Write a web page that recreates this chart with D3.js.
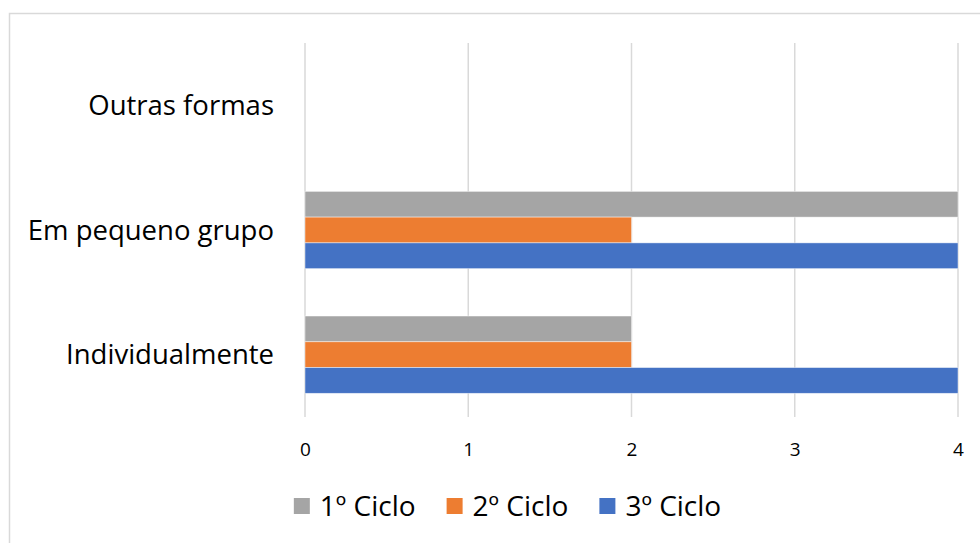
<!DOCTYPE html>
<html>
<head>
<meta charset="utf-8">
<script src="https://cdn.jsdelivr.net/npm/d3@7"></script>
<style>
  body { margin: 0; background: #fff; }
  svg { display: block; font-family: "Open Sans", Lato, sans-serif; }
</style>
</head>
<body>
<svg id="chart" width="980" height="543"></svg>
<script>
// data (categories listed top -> bottom as drawn)
var categories = [ "Outras formas", "Em pequeno grupo", "Individualmente" ];
var seriesNames = [ "1º Ciclo", "2º Ciclo", "3º Ciclo" ];
var seriesColors = [ "#A5A5A5", "#ED7D31", "#4472C4" ];
var ciclo1 = [ 0, 4, 2 ];
var ciclo2 = [ 0, 2, 2 ];
var ciclo3 = [ 0, 4, 4 ];
var xTicks = [ 0, 1, 2, 3, 4 ];

var seriesValues = [ ciclo1, ciclo2, ciclo3 ];

var svg = d3.select( "#chart" );

// outer chart border
svg.append( "rect" )
	.attr( "x", 9.5 )
	.attr( "y", 13.5 )
	.attr( "width", 990 )
	.attr( "height", 560 )
	.attr( "fill", "none" )
	.attr( "stroke", "#d9d9d9" )
	.attr( "stroke-width", 1.5 );

var plot = { left: 305, right: 958, top: 43, bottom: 417 };

var x = d3.scaleLinear()
	.domain( [ 0, 4 ] )
	.range( [ plot.left, plot.right ] );

var y = d3.scaleBand()
	.domain( categories )
	.range( [ plot.top, plot.bottom ] )
	.paddingInner( 0.38 )
	.paddingOuter( 0.19 );

var ySub = d3.scaleBand()
	.domain( d3.range( seriesNames.length ) )
	.range( [ 0, y.bandwidth() ] );

// vertical gridlines
svg.append( "g" )
	.selectAll( "line" )
	.data( xTicks )
	.join( "line" )
		.attr( "x1", function( d ) { return x( d ); } )
		.attr( "x2", function( d ) { return x( d ); } )
		.attr( "y1", plot.top )
		.attr( "y2", plot.bottom )
		.attr( "stroke", "#d9d9d9" )
		.attr( "stroke-width", 1.5 );

// bars
var groups = svg.append( "g" )
	.selectAll( "g" )
	.data( categories )
	.join( "g" )
		.attr( "transform", function( d ) { return "translate(0," + y( d ) + ")"; } );

groups.selectAll( "rect" )
	.data( function( d, i ) {
		return seriesValues.map( function( s, k ) { return { k: k, v: s[ i ] }; } );
	} )
	.join( "rect" )
		.filter( function( d ) { return d.v > 0; } )
		.attr( "x", x( 0 ) )
		.attr( "y", function( d ) { return ySub( d.k ); } )
		.attr( "width", function( d ) { return x( d.v ) - x( 0 ); } )
		.attr( "height", ySub.bandwidth() )
		.attr( "fill", function( d ) { return seriesColors[ d.k ]; } )
		.attr( "stroke", "#ffffff" )
		.attr( "stroke-opacity", 0.6 )
		.attr( "stroke-width", 0.75 );

// x axis labels
var xAxis = svg.append( "g" )
	.attr( "transform", "translate(0," + ( plot.bottom + 32 ) + ")" )
	.call( d3.axisBottom( x ).tickValues( xTicks ).tickFormat( d3.format( "d" ) ).tickSize( 0 ).tickPadding( 0 ) );
xAxis.select( ".domain" ).remove();
xAxis.selectAll( "text" )
	.attr( "dy", "0.35em" )
	.attr( "y", 0 )
	.style( "font-family", "'Open Sans', Lato, sans-serif" )
	.style( "font-size", "19px" )
	.attr( "fill", "#000" );

// category labels
var yAxis = svg.append( "g" )
	.attr( "transform", "translate(" + ( plot.left - 31 ) + ",0)" )
	.call( d3.axisLeft( y ).tickSize( 0 ).tickPadding( 0 ) );
yAxis.select( ".domain" ).remove();
yAxis.selectAll( "text" )
	.attr( "dy", "0.35em" )
	.style( "font-family", "'Open Sans', Lato, sans-serif" )
	.style( "font-size", "27.5px" )
	.attr( "fill", "#000" );

// legend
var legend = svg.append( "g" )
	.attr( "class", "legenda" );

var items = legend.selectAll( "g" )
	.data( seriesNames )
	.join( "g" );

items.append( "rect" )
	.attr( "width", 16 )
	.attr( "height", 16 )
	.attr( "y", -8 )
	.attr( "fill", function( d, i ) { return seriesColors[ i ]; } );

items.append( "text" )
	.attr( "x", 26 )
	.attr( "dy", "0.35em" )
	.style( "font-size", "28px" )
	.attr( "fill", "#000" )
	.text( function( d ) { return d; } );

var pos = 0;
items.each( function() {
	var g = d3.select( this );
	g.attr( "transform", "translate(" + pos + ",0)" );
	pos += 26 + g.select( "text" ).node().getComputedTextLength() + 31;
} );
var legendWidth = pos - 31;
legend.attr( "transform", "translate(" + ( 507.5 - legendWidth / 2 ) + ",506)" );
</script>
</body>
</html>
